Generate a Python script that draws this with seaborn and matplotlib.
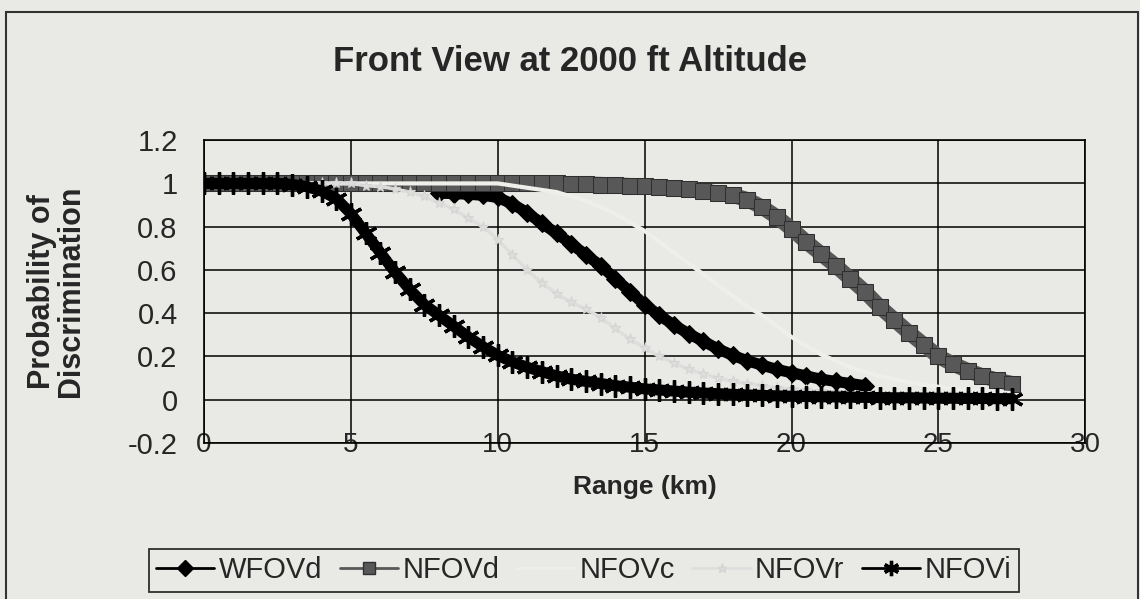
import numpy as np
import pandas as pd
import matplotlib
matplotlib.use("Agg")
import matplotlib.pyplot as plt
import seaborn as sns
from matplotlib.patches import Rectangle
from matplotlib.lines import Line2D

# ranges (km)
range_nfov = np.arange(0, 28, 0.5)
range_wfov = np.arange(8, 23, 0.5)

wfov_d = [0.955, 0.953, 0.95, 0.945, 0.935, 0.905, 0.865, 0.815, 0.77, 0.72,
          0.67, 0.62, 0.56, 0.5, 0.44, 0.39, 0.345, 0.305, 0.27, 0.235,
          0.205, 0.18, 0.16, 0.14, 0.125, 0.11, 0.095, 0.085, 0.075, 0.065]

nfov_d = [1.0] * 25 + [0.998, 0.997, 0.995, 0.993, 0.99, 0.987, 0.983, 0.978, 0.972,
                       0.965, 0.955, 0.945, 0.925, 0.89, 0.845, 0.79, 0.73, 0.675,
                       0.62, 0.56, 0.5, 0.43, 0.37, 0.31, 0.255, 0.2, 0.165, 0.135,
                       0.11, 0.09, 0.075]

nfov_c = [1.0] * 21 + [0.99, 0.98, 0.97, 0.96, 0.94, 0.92, 0.89, 0.86, 0.82, 0.78,
                       0.73, 0.68, 0.63, 0.58, 0.53, 0.48, 0.43, 0.39, 0.34, 0.29,
                       0.25, 0.21, 0.18, 0.15, 0.13, 0.11, 0.095, 0.08, 0.07, 0.06,
                       0.05, 0.045, 0.04, 0.035, 0.03]

nfov_r = [1.0] * 11 + [0.99, 0.985, 0.975, 0.96, 0.94, 0.91, 0.88, 0.84, 0.8, 0.74,
                       0.67, 0.6, 0.54, 0.49, 0.45, 0.42, 0.38, 0.33, 0.28, 0.24,
                       0.2, 0.17, 0.14, 0.12, 0.1, 0.085, 0.075, 0.065, 0.055, 0.05,
                       0.045, 0.04, 0.036, 0.032, 0.029, 0.026, 0.024, 0.022, 0.02,
                       0.018, 0.016, 0.015, 0.014, 0.013, 0.012]

nfov_i = [1.0, 1.0, 1.0, 1.0, 1.0, 1.0, 0.995, 0.985, 0.965, 0.93,
          0.86, 0.77, 0.68, 0.59, 0.51, 0.44, 0.39, 0.34, 0.29, 0.245,
          0.205, 0.175, 0.15, 0.13, 0.11, 0.095, 0.085, 0.075, 0.065, 0.058,
          0.05, 0.045, 0.04, 0.035, 0.031, 0.028, 0.025, 0.022, 0.02, 0.018,
          0.016, 0.015, 0.014, 0.013, 0.012, 0.011, 0.01, 0.009, 0.009, 0.008,
          0.007, 0.007, 0.006, 0.006, 0.005, 0.005]

bg = "#e9eae6"

sns.set_style("white")
plt.rcParams["font.family"] = ["Liberation Sans", "DejaVu Sans"]

fig = plt.figure(figsize=(11.4, 5.99), dpi=100, facecolor=bg)
ax = fig.add_axes([0.179, 0.2604, 0.773, 0.5056])
ax.set_facecolor(bg)

series = [
    ("WFOVd", range_wfov, wfov_d, dict(color="black", marker="D", markersize=9,
                                       markeredgecolor="black")),
    ("NFOVd", range_nfov, nfov_d, dict(color="#585858", marker="s", markersize=11,
                                       markeredgecolor="#303030")),
    ("NFOVc", range_nfov, nfov_c, dict(color="#eeeeeb")),
    ("NFOVr", range_nfov, nfov_r, dict(color="#dedede", marker="*", markersize=8,
                                       markeredgecolor="#d4d4d2")),
    ("NFOVi", range_nfov, nfov_i, dict(color="black", marker=(6, 2, 0), markersize=16,
                                       markeredgecolor="black", markeredgewidth=2.4)),
]
widths = {"WFOVd": 8, "NFOVd": 11, "NFOVc": 3, "NFOVr": 2.5, "NFOVi": 8}

handles = []
for name, xs, ys, style in series:
    df = pd.DataFrame({"range": xs, "p": ys})
    sns.lineplot(data=df, x="range", y="p", ax=ax, zorder=3,
                 linewidth=widths[name], **style)
    leg_style = dict(style)
    if "markersize" in leg_style:
        leg_style["markersize"] = min(leg_style["markersize"] * 0.85, 11)
    handles.append(Line2D([], [], linewidth=2, label=name, **leg_style))

ax.set_xlim(0, 30)
ax.set_ylim(-0.2, 1.2)
ax.set_xticks([0, 5, 10, 15, 20, 25, 30])
ax.set_yticks([-0.2, 0, 0.2, 0.4, 0.6, 0.8, 1.0, 1.2])
ax.set_yticklabels(["-0.2", "0", "0.2", "0.4", "0.6", "0.8", "1", "1.2"])
ax.grid(True, color="black", lw=1.1, zorder=0)
ax.set_axisbelow(True)
for s in ax.spines.values():
    s.set_color("black")
    s.set_linewidth(1.2)
ax.tick_params(axis="x", length=0, pad=-8, labelsize=20)
ax.tick_params(axis="y", length=7, width=1.2, direction="out", pad=12, labelsize=21)

ax.set_xlabel("Range (km)", fontsize=19, fontweight="bold", labelpad=12)
ax.set_ylabel("Probability of\nDiscrimination", fontsize=22, fontweight="bold",
              labelpad=30, linespacing=0.95)

fig.suptitle("Front View at 2000 ft Altitude", fontsize=25, fontweight="bold",
             x=0.5, y=0.925)

leg = fig.legend(handles=handles, loc="center", bbox_to_anchor=(0.512, 0.048), ncol=5,
                 fontsize=21, frameon=True, fancybox=False, edgecolor="black",
                 facecolor=bg, handlelength=2.0, columnspacing=0.6, handletextpad=0.15,
                 borderpad=0.25)
leg.get_frame().set_linewidth(1.3)

fig.add_artist(Rectangle((0.005, -0.02), 0.993, 1.0, transform=fig.transFigure,
                         fill=False, edgecolor="#333333", lw=1.5))

fig.savefig("out.png", dpi=100, facecolor=bg)
